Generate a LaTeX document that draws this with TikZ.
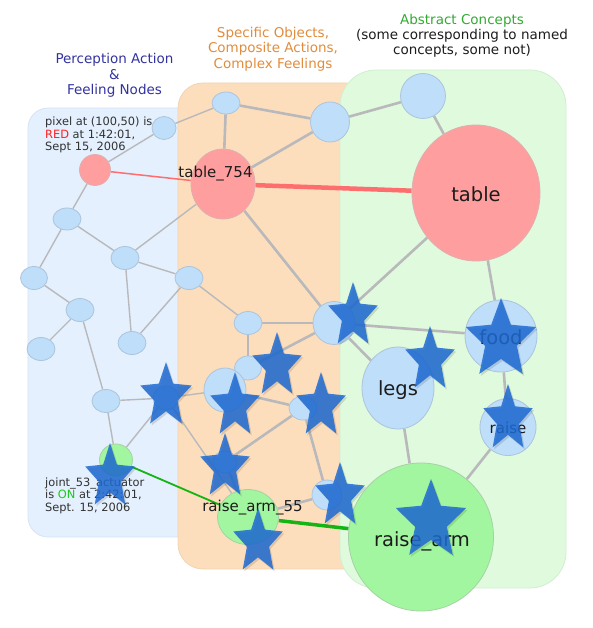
\documentclass[tikz,border=0pt]{standalone}
\usepackage{fontspec}
\setmainfont{DejaVu Sans}
\usetikzlibrary{shapes.geometric}
\pgfdeclarelayer{panels}
\pgfdeclarelayer{edges}
\pgfsetlayers{panels,edges,main}
\definecolor{bluepanel}{RGB}{228,240,253}
\definecolor{bluepanelborder}{RGB}{212,227,245}
\definecolor{orangepanel}{RGB}{253,222,188}
\definecolor{orangepanelborder}{RGB}{240,212,180}
\definecolor{greenpanel}{RGB}{223,250,220}
\definecolor{greenpanelborder}{RGB}{210,238,208}
\definecolor{bnodefill}{RGB}{190,222,250}
\definecolor{bnodeborder}{RGB}{172,196,220}
\definecolor{rnodefill}{RGB}{255,158,158}
\definecolor{rnodeborder}{RGB}{222,175,175}
\definecolor{gnodefill}{RGB}{163,246,160}
\definecolor{gnodeborder}{RGB}{165,210,165}
\definecolor{edgegray}{RGB}{185,185,188}
\definecolor{redline}{RGB}{255,110,110}
\definecolor{greenline}{RGB}{20,180,20}
\definecolor{starblue}{RGB}{30,106,210}
\definecolor{headblue}{RGB}{50,50,160}
\definecolor{headorange}{RGB}{225,140,60}
\definecolor{headgreen}{RGB}{50,170,50}
\definecolor{txt}{RGB}{28,28,28}
\definecolor{txtgray}{RGB}{50,50,50}
\definecolor{redtext}{RGB}{255,30,30}
\definecolor{ontext}{RGB}{30,200,30}
\newcommand{\fsz}[2]{\fontsize{#1}{#2}\selectfont}
\newcommand{\drawstar}[4]{%
  \fill[black,opacity=0.12] plot[samples at={0,...,9},variable=\k]
    ({#1+1.5+#3*(1-0.55*mod(\k,2))*cos(90+36*\k)},{#2+2-#4*(1-0.55*mod(\k,2))*sin(90+36*\k)}) -- cycle;
  \fill[starblue,opacity=0.85] plot[samples at={0,...,9},variable=\k]
    ({#1+#3*(1-0.55*mod(\k,2))*cos(90+36*\k)},{#2-#4*(1-0.55*mod(\k,2))*sin(90+36*\k)}) -- cycle;
}
\begin{document}
\begin{tikzpicture}[x=1pt,y=-1pt,
  bnode/.style={ellipse,draw=bnodeborder,line width=0.8pt,fill=bnodefill,inner sep=0pt},
  rnode/.style={ellipse,draw=rnodeborder,line width=0.8pt,fill=rnodefill,inner sep=0pt},
  gnode/.style={ellipse,draw=gnodeborder,line width=0.8pt,fill=gnodefill,inner sep=0pt},
  thinedge/.style={draw=edgegray,line width=1.4pt},
  thickedge/.style={draw=edgegray,line width=2.6pt},
  lbl/.style={inner sep=0pt,text=txt,anchor=base},
  side/.style={inner sep=0pt,text=txtgray,anchor=base west,font=\fsz{11.4}{13}},
  head/.style={inner sep=0pt,anchor=base,font=\fsz{13.5}{16}}]
\useasboundingbox (0,0) rectangle (593,628);

% panels
\begin{pgfonlayer}{panels}
\filldraw[fill=bluepanel,draw=bluepanelborder,line width=0.8pt,rounded corners=20pt] (28,108) rectangle (205,537);
\filldraw[fill=orangepanel,draw=orangepanelborder,line width=0.8pt,rounded corners=25pt] (178,83) rectangle (372,569);
\filldraw[fill=greenpanel,draw=greenpanelborder,line width=0.8pt,rounded corners=36pt] (340,70) rectangle (566,588);
\end{pgfonlayer}

% headings
\node[head,text=headgreen] (hg1) at (462,24.5) {Abstract Concepts};
\node[head,text=txt] (hg2) at (462,39.5) {(some corresponding to named};
\node[head,text=txt] (hg3) at (462,55) {concepts, some not)};
\node[head,text=headorange] (ho1) at (273,38) {Specific Objects,};
\node[head,text=headorange] (ho2) at (273,53) {Composite Actions,};
\node[head,text=headorange] (ho3) at (273,68.5) {Complex Feelings};
\node[head,text=headblue] (hb1) at (114.5,64) {Perception Action};
\node[head,text=headblue] (hb2) at (114.5,79.5) {\&};
\node[head,text=headblue] (hb3) at (114.5,94.5) {Feeling Nodes};

% nodes: left panel
\node[rnode,minimum width=31pt,minimum height=31pt] (pix) at (95,170) {};
\node[bnode,minimum width=24pt,minimum height=23pt] (b0) at (164,128) {};
\node[bnode,minimum width=28pt,minimum height=22pt] (n1) at (67,219) {};
\node[bnode,minimum width=28pt,minimum height=23pt] (n2) at (125,258) {};
\node[bnode,minimum width=27pt,minimum height=23pt] (n3) at (34,278) {};
\node[bnode,minimum width=28pt,minimum height=23pt] (n4) at (189,278) {};
\node[bnode,minimum width=28pt,minimum height=23pt] (n5) at (80,310) {};
\node[bnode,minimum width=28pt,minimum height=23pt] (n6) at (41,349) {};
\node[bnode,minimum width=28pt,minimum height=23pt] (n7) at (132,343) {};
\node[bnode,minimum width=28pt,minimum height=23pt] (n9) at (106,401) {};
\node[bnode,minimum width=26pt,minimum height=24pt] (s1n) at (166,398) {};
\node[gnode,minimum width=33pt,minimum height=32pt] (joint) at (116,460) {};

% nodes: middle panel
\node[bnode,minimum width=28pt,minimum height=22pt] (o1) at (226,103) {};
\node[bnode,minimum width=39pt,minimum height=40pt] (o2) at (330,122) {};
\node[rnode,minimum width=64pt,minimum height=70pt] (t754) at (223,184) {};
\node[bnode,minimum width=28pt,minimum height=23pt] (n8) at (248,323) {};
\node[bnode,minimum width=42pt,minimum height=43pt] (m1) at (334,323) {};
\node[bnode,minimum width=27pt,minimum height=24pt] (m2) at (248,368) {};
\node[bnode,minimum width=42pt,minimum height=44pt] (m3) at (225,390) {};
\node[bnode,minimum width=28pt,minimum height=24pt] (m4) at (303,408) {};
\node[bnode,minimum width=24pt,minimum height=22pt] (m6) at (225,462) {};
\node[bnode,minimum width=30pt,minimum height=30pt] (m5) at (327,495) {};
\node[gnode,minimum width=61pt,minimum height=55pt] (ra55) at (248,517) {};

% nodes: right panel
\node[bnode,minimum width=45pt,minimum height=45pt] (g1) at (423,96) {};
\node[rnode,minimum width=128pt,minimum height=136pt] (table) at (476,193) {};
\node[bnode,minimum width=72pt,minimum height=82pt] (legs) at (398,388) {};
\node[bnode,minimum width=72pt,minimum height=72pt] (food) at (501,336) {};
\node[bnode,minimum width=56pt,minimum height=57pt] (raise) at (508,427) {};
\node[gnode,minimum width=145pt,minimum height=148pt] (rarm) at (421,537) {};

% edges
\begin{pgfonlayer}{edges}
\draw[thinedge] (pix) -- (b0);
\draw[thinedge] (pix) -- (n1);
\draw[thinedge] (b0) -- (o1);
\draw[thinedge] (n1) -- (n3);
\draw[thinedge] (n1) -- (n2);
\draw[thinedge] (n2) -- (t754);
\draw[thinedge] (n2) -- (n7);
\draw[thinedge] (n2) -- (n4);
\draw[thinedge] (n3) -- (n5);
\draw[thinedge] (n5) -- (n6);
\draw[thinedge] (n5) -- (n9);
\draw[thinedge] (n4) -- (n7);
\draw[thinedge] (n4) -- (n8);
\draw[thinedge] (n9) -- (s1n);
\draw[thinedge] (n9) -- (joint);
\draw[thinedge] (s1n) -- (joint);
\draw[thinedge] (s1n) -- (m3);
\draw[thinedge] (s1n) -- (ra55);
\draw[thickedge] (o1) -- (t754);
\draw[thickedge] (o1) -- (o2);
\draw[thickedge] (o2) -- (t754);
\draw[thickedge] (o2) -- (g1);
\draw[thickedge] (g1) -- (table);
\draw[thickedge] (t754) -- (m1);
\draw[thickedge] (n8) -- (m1);
\draw[thickedge] (n8) -- (m2);
\draw[thickedge] (m1) -- (m2);
\draw[thickedge] (m3) -- (m4);
\draw[thickedge] (m4) -- (m6);
\draw[thickedge] (m4) -- (m5);
\draw[thickedge] (m6) -- (ra55);
\draw[thickedge] (m5) -- (ra55);
\draw[thickedge] (m1) -- (table);
\draw[thickedge] (m1) -- (food);
\draw[thickedge] (m1) -- (legs);
\draw[thickedge] (table) -- (food);
\draw[thickedge] (food) -- (raise);
\draw[thickedge] (raise) -- (rarm);
\draw[thickedge] (legs) -- (rarm);
\draw[draw=redline,line width=1.5pt] (pix) -- (t754);
\draw[draw=redline,line width=4.5pt] (t754) -- (table);
\draw[draw=greenline,line width=1.8pt] (joint) -- (ra55);
\draw[draw=greenline,line width=3.5pt] (ra55) -- (rarm);
\end{pgfonlayer}

% side texts
\node[side] (px1) at (45,126) {pixel at (100,50) is};
\node[side] (px2) at (45,138.5) {\textcolor{redtext}{RED} at 1:42:01,};
\node[side] (px3) at (45,151) {Sept 15, 2006};
\node[side] (jt1) at (45,486) {joint\_53\_actuator};
\node[side] (jt2) at (45,498.5) {is \textcolor{ontext}{ON} at 2:42:01,};
\node[side] (jt3) at (45,511) {Sept. 15, 2006};

% node labels
\node[lbl,font=\fsz{15}{17}] (t754lbl) at (215.5,178) {table\_754};
\node[lbl,font=\fsz{15}{17}] (ra55lbl) at (252.5,511) {raise\_arm\_55};
\node[lbl,font=\fsz{19.5}{22}] (tablelbl) at (476,202) {table};
\node[lbl,font=\fsz{19.5}{22}] (legslbl) at (398,395) {legs};
\node[lbl,font=\fsz{19.5}{22}] (foodlbl) at (501,344.5) {food};
\node[lbl,font=\fsz{15}{17}] (raiselbl) at (508,433.5) {raise};
\node[lbl,font=\fsz{19.5}{22}] (rarmlbl) at (422,546) {raise\_arm};

% stars
\drawstar{166}{396}{27}{34}
\drawstar{235}{406}{26}{34}
\drawstar{277}{366}{26}{34}
\drawstar{321}{406}{26}{34}
\drawstar{225}{467}{26}{34}
\drawstar{258}{542}{26}{34}
\drawstar{340}{496}{26}{34}
\drawstar{353}{316}{26}{34}
\drawstar{430}{360}{26}{34}
\drawstar{501}{340}{37}{42}
\drawstar{508}{419}{26}{35}
\drawstar{431}{521}{37}{42}
\drawstar{110}{477}{26}{34}
\end{tikzpicture}
\end{document}
